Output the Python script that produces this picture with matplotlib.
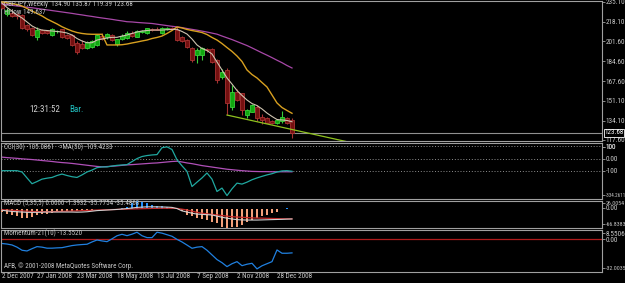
import numpy as np
import pandas as pd
import matplotlib
matplotlib.use("Agg")
import matplotlib.pyplot as plt

# --- data (GBPJPY weekly) ---
first_week = "2007-12-09"

opens = [234.0, 224.5, 226.0, 225.0, 224.0, 215.5, 212.7, 205.5, 211.2, 210.0,
         207.0, 210.4, 211.8, 207.0, 207.0, 200.0, 199.0, 196.0, 197.0, 198.5,
         206.0, 205.0, 207.0, 199.3, 204.0, 204.2, 209.0, 205.5, 209.5, 208.4,
         212.0, 212.0, 208.4, 212.0, 213.0, 211.2, 205.5, 202.7, 195.7, 190.0,
         190.0, 195.2, 194.8, 185.7, 171.5, 177.0, 145.9, 158.7, 157.3, 138.8,
         141.7, 145.9, 137.4, 136.5, 134.0, 131.8, 133.6, 136.0, 134.90]
highs = [236.0, 230.0, 228.0, 226.0, 225.0, 216.5, 213.5, 213.6, 212.5, 211.0,
         213.0, 211.5, 212.5, 208.0, 207.5, 201.5, 203.0, 202.0, 203.0, 208.0,
         208.5, 209.0, 208.0, 204.0, 207.5, 210.0, 210.5, 211.5, 211.5, 213.0,
         213.0, 213.5, 213.5, 214.0, 214.0, 213.8, 206.0, 203.5, 196.5, 195.7,
         196.5, 196.0, 195.7, 186.5, 178.0, 178.5, 164.4, 161.0, 158.0, 144.2,
         148.5, 147.0, 140.0, 137.4, 134.8, 135.5, 142.0, 137.5, 135.87]
lows = [229.0, 223.0, 222.0, 221.0, 212.0, 210.5, 206.0, 203.0, 207.5, 207.8,
        206.0, 209.0, 204.5, 203.5, 197.5, 191.0, 195.0, 195.0, 195.5, 198.0,
        203.0, 204.0, 202.0, 198.0, 203.0, 203.5, 205.0, 205.0, 208.5, 207.5,
        210.0, 211.0, 208.0, 211.5, 211.0, 202.0, 201.0, 196.0, 184.0, 183.0,
        185.7, 192.5, 183.0, 166.0, 169.5, 138.8, 143.0, 150.5, 138.8, 136.5,
        141.0, 134.0, 131.4, 131.8, 131.4, 131.0, 131.8, 131.0, 119.39]
closes = [230.0, 228.0, 223.0, 223.0, 213.0, 212.0, 207.0, 211.2, 208.4, 208.6,
          211.8, 210.6, 205.5, 204.4, 198.5, 192.5, 195.7, 201.0, 201.5, 207.0,
          204.0, 207.8, 203.0, 203.3, 206.5, 209.0, 206.0, 210.7, 210.5, 212.7,
          211.0, 211.2, 212.7, 213.2, 212.0, 202.7, 202.0, 197.0, 185.7, 194.2,
          195.7, 194.3, 184.2, 168.7, 175.7, 149.0, 158.7, 151.6, 143.0, 143.0,
          147.4, 136.0, 134.6, 132.3, 131.8, 134.6, 137.4, 131.8, 123.68]

ma_fast = [234.2, 230.4, 227.4, 224.0, 221.5, 218.1, 214.7, 212.5, 211.2, 210.8,
           210.4, 210.0, 209.5, 208.7, 207.0, 204.0, 201.9, 200.4, 200.4, 202.7,
           203.6, 204.4, 205.0, 205.0, 206.1, 207.0, 208.3, 209.5, 210.4, 210.8,
           211.2, 211.2, 211.2, 211.5, 211.7, 211.8, 210.0, 207.8, 203.6, 198.5,
           195.5, 193.8, 190.8, 184.0, 177.2, 170.4, 165.2, 159.7, 155.5, 151.6,
           148.6, 146.9, 144.0, 140.5, 137.6, 135.0, 134.6, 134.2, 133.1]
ma_mid = [235.1, 234.4, 233.6, 233.0, 231.7, 229.6, 227.4, 225.3, 223.2, 220.6,
          218.5, 216.4, 214.0, 212.1, 210.4, 209.1, 208.3, 207.8, 207.6, 207.6,
          207.6, 198.5, 198.5, 198.5, 198.7, 199.3, 200.2, 201.0, 201.9, 202.7,
          204.0, 204.9, 206.1, 208.3, 210.8, 213.8, 213.0, 211.7, 210.8, 210.0,
          209.1, 207.4, 204.9, 202.7, 199.7, 196.3, 193.0, 189.1, 184.4, 177.2,
          173.3, 170.4, 166.5, 162.7, 155.9, 149.1, 145.2, 142.7, 140.3]
ma_slow = [233.4, 232.9, 232.3, 231.7, 231.2, 230.6, 230.2, 229.6, 229.0, 228.4,
           227.8, 227.2, 226.6, 226.0, 225.4, 224.7, 224.1, 223.4, 222.8, 222.1,
           221.5, 220.9, 220.3, 219.6, 219.0, 218.3, 218.1, 217.7, 217.4, 217.1,
           216.8, 216.2, 215.6, 215.0, 214.4, 213.9, 213.3, 212.5, 211.8, 211.1,
           210.3, 209.5, 208.6, 207.7, 206.1, 204.6, 203.1, 201.4, 199.7, 198.0,
           196.0, 193.9, 191.8, 189.8, 187.7, 185.5, 183.4, 181.0, 178.9]
trend_bars = [45, 69]
trend_prices = [138.8, 116.1]
bid_price = 123.68
price_ticks = [235.10, 218.10, 201.60, 184.60, 167.60, 151.10, 134.10, 117.60]

cci = [-100, -100, -100, -100, -111, -160, -208, -190, -170, -162,
       -156, -140, -128, -140, -150, -156, -135, -111, -95, -75,
       -69, -69, -62, -56, -53, -50, -25, 0, 17, 25,
       30, 33, 90, 97, 75, -10, -60, -106, -231, -195,
       -160, -119, -170, -272, -244, -306, -250, -203, -211, -195,
       -175, -160, -147, -135, -125, -111, -102, -100, -105.09]
cci_ma = [12, 8, 5, 2, -2, -5, -8, -12, -16, -20,
          -24, -29, -33, -36, -40, -45, -50, -55, -60, -65,
          -68, -66, -63, -60, -56, -52, -50, -47, -44, -41,
          -38, -36, -32, -28, -24, -22, -28, -36, -42, -50,
          -58, -64, -70, -76, -82, -88, -92, -96, -100, -103,
          -106, -107, -108, -108, -109, -109, -109, -109, -109.42]

macd_hist = [-12, -17.6, -23, -25.5, -32, -34, -29, -23, -20, -17.6,
             -14, -12, -10, -9, -8, -7, -6, -5, -4, -3,
             -2.5, -2, -1.5, -1, 2, 6, 20, 26, 23, 18,
             12, 10, 8, 5, 2, -3, -10, -21, -25.5, -34,
             -36.5, -40, -45, -51, -62, -66.8, -65, -62, -56, -45,
             -40, -32, -25.5, -21, -14, -12, 0, 2, -1.39]
macd_main = [-6, -8, -10, -11, -12, -13, -13, -13, -12.5, -12,
             -12, -12, -12, -12, -12, -12.5, -12, -11, -9, -7,
             -6, -5, -4, -3, -1.5, 0, 2, 4, 5, 6,
             6, 6, 5.5, 5, 4, 0, -8, -12, -16, -19,
             -20, -21, -22, -26, -30, -33, -36, -38, -39, -39.5,
             -39.5, -39.5, -39, -38.5, -38, -37.5, -37, -36.3, -35.78]
macd_signal = [-4, -5, -6, -7, -8, -9, -10, -10.5, -10.7, -10.7,
               -10.5, -10, -9.5, -9, -8.5, -8, -7, -6.5, -6, -5,
               -4.5, -4, -3.5, -3, -2.5, -2, -1.4, -1, -0.5, 0,
               0.5, 0.8, 1, 1, 1, 0.5, -2, -5, -9, -13,
               -16, -18, -20, -22, -24, -26, -28, -29, -30, -31,
               -32, -32.5, -33, -33.5, -34, -34.5, -35, -35.3, -35.49]

momentum = [-4.5, -5, -5.9, -8, -11, -11.7, -9.5, -7.5, -8, -9,
            -9, -8.7, -8.5, -7.5, -6.5, -5.9, -5.5, -5.2, -3, -1.1,
            -2, -2.7, 0, 3, 4.4, 3.1, 4.5, 6.4, 3, 1.2,
            1.2, 6.4, 5.5, 4, 2.5, -0.5, -3, -6, -9.1, -8,
            -7.5, -11, -15.5, -20, -23, -26.8, -24, -22, -25.9, -24.5,
            -23.6, -29, -26, -24, -22, -10.7, -13.9, -13.9, -13.55]

date_labels = ["2 Dec 2007", "27 Jan 2008", "23 Mar 2008", "18 May 2008",
               "13 Jul 2008", "7 Sep 2008", "2 Nov 2008", "28 Dec 2008"]

# --- layout in pixels ---
W, H = 625, 283
LEFT, RIGHT = 1, 602
BAR_PX = 5.0
FAM = ["Roboto Condensed", "DejaVu Sans"]
GRID = "#a0a0a0"
TXT = "#c8c8c8"


def px_axes(fig, top, bottom):
    ax = fig.add_axes([LEFT / W, 1 - bottom / H, (RIGHT - LEFT) / W, (bottom - top) / H])
    ax.set_facecolor("black")
    for s in ax.spines.values():
        s.set_color(GRID)
        s.set_linewidth(0.8)
    ax.set_xlim((LEFT - 2) / BAR_PX, (RIGHT - 2) / BAR_PX)
    ax.set_xticks([])
    ax.yaxis.tick_right()
    ax.tick_params(axis="y", direction="out", length=2, width=0.6, color=GRID,
                   pad=0.8, labelsize=5.2, labelcolor=TXT)
    return ax


def right_labels(ax, pos, labels):
    ax.set_yticks(pos)
    ax.set_yticklabels(labels, fontfamily=FAM)
    # long indicator values are squeezed so they stay inside the picture
    for t in ax.get_yticklabels():
        n = len(t.get_text())
        t.set_fontsize(5.2 if n <= 6 else (4.2 if n <= 8 else 3.7))


def label(ax, x_px, y_px, s, color=TXT, size=5.0, **kw):
    ax.figure.text(x_px / W, 1 - y_px / H, s, color=color, fontsize=size,
                   fontfamily=FAM, va="center", ha="left", **kw)


fig = plt.figure(figsize=(W / 100, H / 100), dpi=100, facecolor="black")
bars = np.arange(len(closes))

# main price panel
ax = px_axes(fig, 1, 141)
ax.set_ylim(116.7, 235.95)
ax.axhline(bid_price, color="#909090", lw=0.8, zorder=1)
for i in bars:
    up = closes[i] >= opens[i]
    edge = "#3ad03a" if up else "#a83232"
    face = "#10a810" if up else "#741010"
    ax.vlines(i, lows[i], highs[i], color=edge, lw=0.8, zorder=2)
    lo, hi = min(opens[i], closes[i]), max(opens[i], closes[i])
    ax.bar(i, max(hi - lo, 0.4), bottom=lo, width=0.62, color=face,
           edgecolor=edge, linewidth=0.6, zorder=3)
ax.plot(bars, ma_slow, color="#a848a8", lw=0.9, zorder=4)
ax.plot(bars, ma_mid, color="#d8a020", lw=1.0, zorder=4)
ax.plot(bars, ma_fast, color="#cfc4b0", lw=0.8, zorder=4)
ax.plot(trend_bars, trend_prices, color="#8fc21f", lw=0.9, zorder=4)
right_labels(ax, price_ticks, [f"{p:.2f}" for p in price_ticks])
ax.text(1.004, bid_price, f"{bid_price:.2f}", transform=ax.get_yaxis_transform(),
        fontsize=5.0, fontfamily=FAM, color="white", va="center", ha="left",
        bbox=dict(facecolor="black", edgecolor="white", lw=0.6, pad=0.5), clip_on=False)
label(ax, 4, 5, "GBPJPY,Weekly  134.90 135.87 119.39 123.68")
label(ax, 4, 12, "Hi-low 149.637")
label(ax, 29, 110, "12:31:52", color="#d0d0d0", size=6.5)
label(ax, 69, 110, "Bar.", color="#20c0c0", size=6.5)

# CCI panel
ax2 = px_axes(fig, 143, 199)
ax2.set_ylim(-334.2611, 128.8364)
for lvl in (100, 0, -100):
    ax2.axhline(lvl, color="#a0a0a0", lw=0.6, ls=(0, (1.2, 2.2)), zorder=1)
ax2.plot(bars, cci_ma, color="#b050b8", lw=0.9, zorder=2)
ax2.plot(bars, cci, color="#20a8a0", lw=0.9, zorder=3)
right_labels(ax2, [96, 96, 0, -100, -300],
             ["128.8364", "100", "0.00", "-100", "-334.2611"])
label(ax2, 4, 147, "CCI(30) -105.0861   =MA(50) -109.4233")

# MACD panel
ax3 = px_axes(fig, 201, 228)
ax3.set_ylim(-66.8383, 26.0054)
hist_cols = ["#1e90ff" if v > 0 else "#f4a07a" for v in macd_hist]
hist_cols[-1] = "#a01818"
label(ax3, 4, 203.5, "MACD (5,35,5) 0.0000 -1.3932 -35.7754 -35.4868")
ax3.bar(bars, macd_hist, width=0.42, color=hist_cols, zorder=3)
ax3.plot(bars, macd_signal, color="#c02828", lw=0.9, zorder=4)
ax3.plot(bars, macd_main, color="#d0d0d0", lw=0.8, zorder=4)
right_labels(ax3, [20, 3, -54], ["26.0054", "0.00", "-66.8383"])

# Momentum panel
ax4 = px_axes(fig, 230, 272)
ax4.set_ylim(-32.0035, 8.5506)
ax4.axhline(0, color="#b01c1c", lw=0.9, zorder=1)
ax4.plot(bars, momentum, color="#2080e0", lw=0.9, zorder=2)
right_labels(ax4, [5.2, -0.5, -28.3], ["8.5506", "0.00", "-32.0035"])
label(ax4, 4, 233.5, "Momentum-21(10) -13.5520")
label(ax4, 4, 266, "AFB, \u00a9 2001-2008 MetaQuotes Software Corp.")

# date labels under the last panel
start = pd.Timestamp(first_week)
for s in date_labels:
    k = max((pd.Timestamp(s) - start).days / 7, 0)
    ax4.text(k, -5 / 42, s, transform=ax4.get_xaxis_transform(), fontsize=5.2,
             fontfamily=FAM, color=TXT, va="center", ha="left", clip_on=False)

fig.savefig("out.png", dpi=100, facecolor="black")
